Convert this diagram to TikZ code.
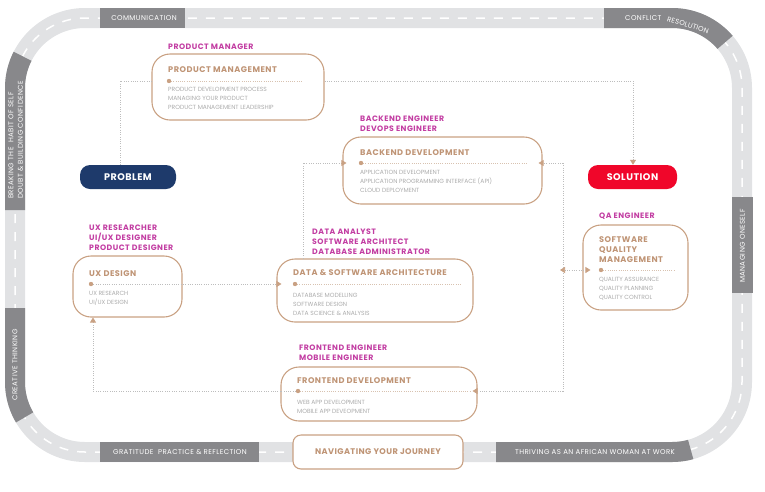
\documentclass[tikz,border=0pt]{standalone}
\usepackage{fontspec}
\setmainfont{Poppins}
\usetikzlibrary{arrows.meta}
\definecolor{road}{HTML}{E1E2E4}
\definecolor{roaddark}{HTML}{88888B}
\definecolor{cbrown}{HTML}{C9A183}
\definecolor{ctitle}{HTML}{BF9475}
\definecolor{crole}{HTML}{C23DA2}
\definecolor{citem}{HTML}{ABABAB}
\definecolor{cline}{HTML}{BDBDBD}
\definecolor{cinner}{HTML}{D8C2B0}
\definecolor{cnavy}{HTML}{1E3A6B}
\definecolor{cred}{HTML}{F0062A}
\begin{document}
\begin{tikzpicture}[x=1pt,y=-1pt,
  card/.style={draw=cbrown, line width=1.1pt, rounded corners=18pt, inner sep=0pt},
  roletext/.style={anchor=north west, inner sep=0pt, align=left, text=crole, font=\fontsize{7.8}{10}\selectfont\bfseries\addfontfeature{LetterSpace=6}},
  titletext/.style={anchor=north west, inner sep=0pt, align=left, text=ctitle, font=\fontsize{8.2}{10}\selectfont\bfseries\addfontfeature{LetterSpace=6}},
  itemtext/.style={anchor=north west, inner sep=0pt, align=left, text=citem, font=\fontsize{6}{9}\selectfont},
  bandtext/.style={inner sep=0pt, text=white, font=\fontsize{7}{7}\selectfont\addfontfeature{LetterSpace=6}},
  pill/.style={rounded corners=10pt, text=white, font=\fontsize{9.6}{10}\selectfont\bfseries\addfontfeature{LetterSpace=5}, inner sep=0pt},
  conn/.style={draw=cline, line width=0.7pt, dash pattern=on 0.7pt off 1.6pt},
  inner/.style={draw=cinner, line width=0.7pt, dash pattern=on 0.7pt off 1.5pt},
  arr/.style={-{Triangle[width=6pt,length=5pt,color=cbrown]}},
  dbl/.style={{Triangle[width=6pt,length=5pt,color=cbrown]}-{Triangle[width=6pt,length=5pt,color=cbrown]}},
  dotmark/.style={circle, fill=cbrown, inner sep=0pt, minimum size=4.4pt}
]
\useasboundingbox (0,0) rectangle (765,491);

% ---------- road ----------
\draw[road, line width=20pt, rounded corners=70pt] (15,18) rectangle (742,452);
\draw[white, line width=1.5pt, dash pattern=on 9pt off 9pt, rounded corners=70pt] (15,18) rectangle (742,452);

% dark segments
\fill[roaddark] (100,8) rectangle (185,28);
\fill[roaddark] (732,197) rectangle (752.5,293);
\fill[roaddark] (100,442) rectangle (259,462);
\begin{scope}
  \clip (604,-5) -- (604,40) -- (672,88) -- (772,2) -- (772,-5) -- cycle;
  \draw[roaddark, line width=20pt, rounded corners=70pt] (15,18) rectangle (742,452);
\end{scope}
\begin{scope}
  \clip (85,88) -- (-37,26) -- (-37,210) -- (50,210) -- (50,88) -- cycle;
  \draw[roaddark, line width=20pt, rounded corners=70pt] (15,18) rectangle (742,452);
\end{scope}
\begin{scope}
  \clip (-31,308) -- (60,308) -- (60,382) -- (85,382) -- (-31,450) -- cycle;
  \draw[roaddark, line width=20pt, rounded corners=70pt] (15,18) rectangle (742,452);
\end{scope}
\begin{scope}
  \clip (496,420) -- (672,420) -- (672,382) -- (708,512) -- (496,512) -- cycle;
  \draw[roaddark, line width=20pt, rounded corners=70pt] (15,18) rectangle (742,452);
\end{scope}

% band labels
\node[bandtext] (lcomm) at (144,18) {COMMUNICATION};
\node[bandtext] (lgrat) at (180,452) {GRATITUDE\ \ PRACTICE \& REFLECTION};
\node[bandtext] (lthr) at (595,452) {THRIVING AS AN AFRICAN WOMAN AT WORK};
\node[bandtext, rotate=90] (lman) at (742.5,246) {MANAGING ONESELF};
\node[bandtext, rotate=90] (lcre) at (15,365) {CREATIVE THINKING};
\node[bandtext, rotate=90, anchor=west] (lbr1) at (11,199) {BREAKING THE\ \ HABIT OF SELF};
\node[bandtext, rotate=90, anchor=west] (lbr2) at (20.5,199) {DOUBT \& BUILDING CONFIDENCE};
\node[bandtext, anchor=west] (lcon1) at (625,18.5) {CONFLICT};
\node[bandtext, rotate=-17, font=\fontsize{7}{7}\selectfont\addfontfeature{LetterSpace=3}] (lcon2) at (688,25) {RESOLUTION};

% ---------- navigating ----------
\node[card, rounded corners=8pt, fill=white, minimum width=170pt, minimum height=34pt,
  text=ctitle, font=\fontsize{8.2}{9}\selectfont\bfseries\addfontfeature{LetterSpace=5}] (nav) at (378,452) {NAVIGATING YOUR JOURNEY};

% ---------- pills ----------
\node[pill, fill=cnavy, minimum width=96pt, minimum height=24pt] (prob) at (128,177) {PROBLEM};
\node[pill, fill=cred, minimum width=89pt, minimum height=24pt] (sol) at (632.5,177) {SOLUTION};

% ---------- cards ----------
\node[card, minimum width=172pt, minimum height=66pt] (pm) at (238,87) {};
\node[card, minimum width=199pt, minimum height=67pt] (be) at (442.5,170.5) {};
\node[card, minimum width=109pt, minimum height=61pt] (ux) at (127.5,286.5) {};
\node[card, minimum width=196pt, minimum height=63pt] (da) at (375,290.5) {};
\node[card, minimum width=105pt, minimum height=85pt] (qa) at (635.5,267.5) {};
\node[card, minimum width=196pt, minimum height=54pt] (fe) at (379,394) {};

% roles
\node[roletext] (rpm) at (168,43.5) {PRODUCT MANAGER};
\node[roletext] (rbe) at (360,115.5) {BACKEND ENGINEER\\DEVOPS ENGINEER};
\node[roletext] (rux) at (89,224.5) {UX RESEARCHER\\UI/UX DESIGNER\\PRODUCT DESIGNER};
\node[roletext] (rda) at (312,228.5) {DATA ANALYST\\SOFTWARE ARCHITECT\\DATABASE ADMINISTRATOR};
\node[roletext] (rqa) at (599,212.5) {QA ENGINEER};
\node[roletext] (rfe) at (299,344.5) {FRONTEND ENGINEER\\MOBILE ENGINEER};

% titles
\node[titletext] (tpm) at (168,66) {PRODUCT MANAGEMENT};
\node[titletext] (tbe) at (360,149) {BACKEND DEVELOPMENT};
\node[titletext] (tux) at (89,270) {UX DESIGN};
\node[titletext] (tda) at (293,269) {DATA \& SOFTWARE ARCHITECTURE};
\node[titletext] (tqa) at (599,236) {SOFTWARE\\QUALITY\\MANAGEMENT};
\node[titletext] (tfe) at (297,377) {FRONTEND DEVELOPMENT};

% items
\node[itemtext] (ipm) at (168,87) {PRODUCT DEVELOPMENT PROCESS\\MANAGING YOUR PRODUCT\\PRODUCT MANAGEMENT LEADERSHIP};
\node[itemtext] (ibe) at (360,170) {APPLICATION DEVELOPMENT\\APPLICATION PROGRAMMING INTERFACE (API)\\CLOUD DEPLOYMENT};
\node[itemtext] (iux) at (89,291) {UX RESEARCH\\UI/UX DESIGN};
\node[itemtext] (ida) at (293,293) {DATABASE MODELLING\\SOFTWARE DESIGN\\DATA SCIENCE \& ANALYSIS};
\node[itemtext] (iqa) at (599,277) {QUALITY ASSURANCE\\QUALITY PLANNING\\QUALITY CONTROL};
\node[itemtext] (ife) at (297,400) {WEB APP DEVELOPMENT\\MOBILE APP DEVEOPMENT};

% inner lines and dots
\coordinate (dpm) at (169,81);
\coordinate (dbe) at (361,163);
\coordinate (dux) at (91,284);
\coordinate (dda) at (295,284);
\coordinate (dqa) at (601,270);
\coordinate (dfe) at (298,391);
\draw[inner] (dpm) -- (303,81);
\draw[inner] (dbe) -- (528,163);
\draw[inner] (dda) -- (462,284);
\draw[inner] (dqa) -- (675,270);
\draw[inner] (dfe) -- (470,391);

% ---------- connectors ----------
\coordinate (p1) at (120,81);
\coordinate (p2) at (633,81);
\coordinate (p3) at (303,163);
\coordinate (h1) at (563,163);
\coordinate (h2) at (563,391);
\coordinate (h3) at (560,270);
\coordinate (q1) at (93,391);
\draw[conn] (prob.north -| p1) -- (p1) -- (pm.west |- p1);
\draw[conn, arr] (pm.east |- p2) -- (p2) -- (sol.north -| p2);
\draw[conn, arr] (da.north -| p3) -- (p3) -- ([xshift=4pt]be.west |- p3);
\draw[conn] (h1) -- (h2);
\draw[conn, arr] (h1) -- ([xshift=-4pt]be.east |- h1);
\draw[conn, arr] (h2) -- ([xshift=-5pt]fe.east |- h2);
\draw[conn, dbl] (h3) -- ([xshift=8pt]qa.west |- h3);
\draw[conn, arr] (dux) -- ([xshift=5pt]da.west |- dux);
\draw[conn] (dfe) -- (fe.west |- dfe);
\draw[conn, arr] (fe.west |- q1) -- (q1) -- (q1 |- ux.south);

\foreach \d in {dpm,dbe,dux,dda,dqa,dfe} \node[dotmark] at (\d) {};
\end{tikzpicture}
\end{document}
